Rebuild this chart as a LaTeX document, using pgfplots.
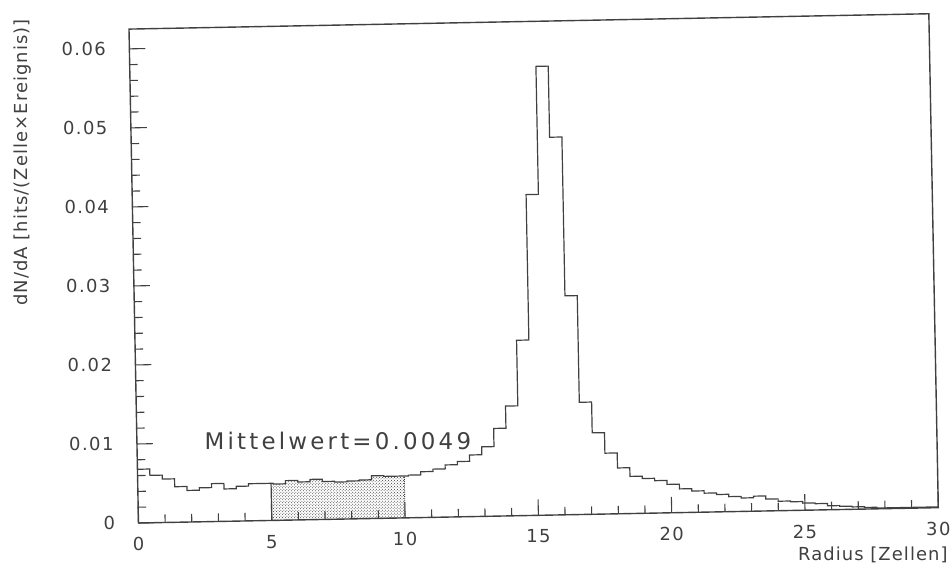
\documentclass[border=0pt]{standalone}
\usepackage{pgfplots}
\pgfplotsset{compat=1.18}
\usepackage{pgfplotstable}
\usepackage{fontspec}
\setmainfont{DejaVu Sans}
\newfontfamily\tickfont{DejaVu Sans}[LetterSpace=8]
\newfontfamily\labfont{DejaVu Sans}[LetterSpace=6]
\newfontfamily\txtfont{DejaVu Sans}[LetterSpace=14]
\usetikzlibrary{patterns}
\definecolor{ink}{gray}{0.25}

% 65 bins of width 30/65 (left edge, content)
\pgfplotstableread{
x y
0.0000 0.0068
0.4615 0.0060
0.9231 0.0055
1.3846 0.0045
1.8462 0.0040
2.3077 0.0043
2.7692 0.0048
3.2308 0.0041
3.6923 0.0044
4.1538 0.0047
4.6154 0.0047
5.0769 0.0046
5.5385 0.0050
6.0000 0.0048
6.4615 0.0051
6.9231 0.0048
7.3846 0.0047
7.8462 0.0048
8.3077 0.0049
8.7692 0.0054
9.2308 0.0053
9.6923 0.0053
10.1538 0.0054
10.6154 0.0058
11.0769 0.0061
11.5385 0.0066
12.0000 0.0070
12.4615 0.0078
12.9231 0.0088
13.3846 0.0111
13.8462 0.0139
14.3077 0.0222
14.7692 0.0406
15.2308 0.0568
15.6923 0.0478
16.1538 0.0277
16.6154 0.0142
17.0769 0.0103
17.5385 0.0077
18.0000 0.0058
18.4615 0.0047
18.9231 0.0044
19.3846 0.0041
19.8462 0.0036
20.3077 0.0030
20.7692 0.0027
21.2308 0.0024
21.6923 0.0022
22.1538 0.0019
22.6154 0.0017
23.0769 0.0019
23.5385 0.0015
24.0000 0.0012
24.4615 0.0011
24.9231 0.0009
25.3846 0.0008
25.8462 0.0005
26.3077 0.0004
26.7692 0.0003
27.2308 0.0002
27.6923 0.0001
28.1538 0.0001
28.6154 0.0001
29.0769 0.0001
29.5385 0.0001
30.0000 0.0001
}\histdata

\begin{document}
\begin{tikzpicture}
\begin{axis}[
  at={(0,0)}, anchor=south west,
  rotate around={1.1:(0,0)},
  scale only axis, width=800bp, height=494bp,
  xmin=0, xmax=30, ymin=0, ymax=0.0625,
  scaled y ticks=false, scaled x ticks=false,
  axis line style={ink, line width=1.4bp},
  xtick={0,5,10,15,20,25,30},
  xticklabels={0,5,10,15,20,25,30},
  ytick={0,0.01,0.02,0.03,0.04,0.05,0.06},
  yticklabels={0,0.01,0.02,0.03,0.04,0.05,0.06},
  minor x tick num=4, minor y tick num=4,
  tick align=inside, xtick pos=bottom, ytick pos=left,
  major tick length=16bp, minor tick length=8bp,
  every tick/.style={ink, line width=1.1bp},
  ticklabel style={font=\tickfont\fontsize{18}{20}\selectfont, text=ink},
  yticklabel style={xshift=-20bp},
  xticklabel style={yshift=-11bp},
  xlabel={Radius [Zellen]},
  ylabel={dN/dA [hits/(Zelle×Ereignis)]},
  label style={font=\labfont\fontsize{18}{20}\selectfont, text=ink},
  xlabel style={at={(axis description cs:1,0)}, anchor=north east, yshift=-36bp, xshift=13bp},
  ylabel style={at={(axis description cs:-0.104,1)}, anchor=south east},
  clip=false,
]
\addplot[const plot mark left, draw=none, pattern=crosshatch dots, pattern color=black!80]
  coordinates {(5,0.0047) (5.0769,0.0046) (5.5385,0.0050) (6.0000,0.0048) (6.4615,0.0051)
   (6.9231,0.0048) (7.3846,0.0047) (7.8462,0.0048) (8.3077,0.0049) (8.7692,0.0054)
   (9.2308,0.0053) (9.6923,0.0053) (10,0.0053)} \closedcycle;
\addplot[ink, densely dotted, line width=0.9bp] coordinates {(10,0) (10,0.0053)};
\addplot[ink, line width=1.2bp] coordinates {(5,0) (5,0.0047)};
\addplot[const plot mark left, ink, line width=1.2bp] table[x=x,y=y] {\histdata};
\node[anchor=base west, font=\txtfont\fontsize{23}{26}\selectfont, text=ink] at (axis cs:2.4,0.0091) {Mittelwert=0.0049};
\end{axis}
\pgfresetboundingbox
\path[use as bounding box] (-129bp,-44bp) rectangle (821bp,523bp);
\end{tikzpicture}
\end{document}
